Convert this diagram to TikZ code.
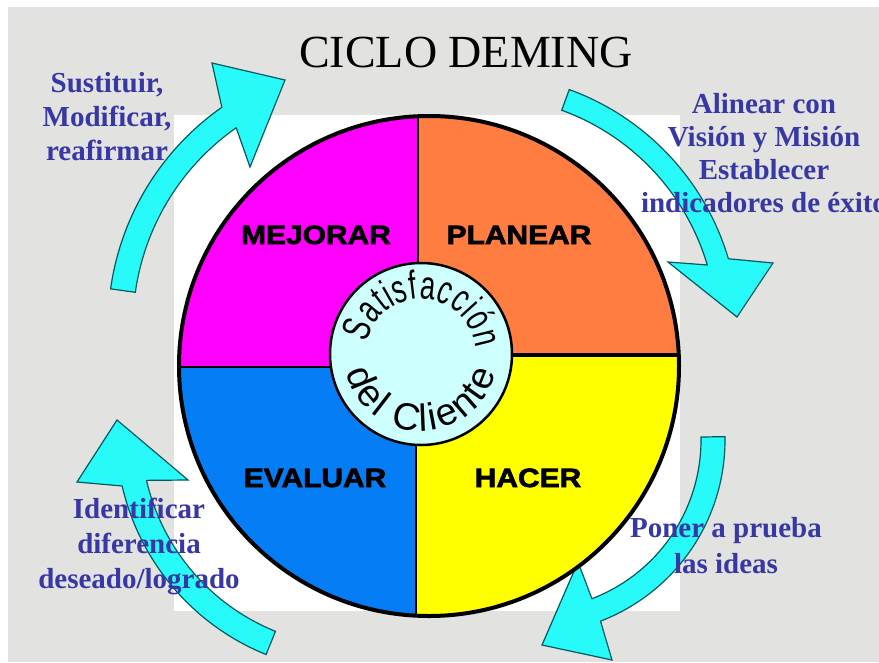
\documentclass[tikz,border=0pt]{standalone}
\usepackage{fontspec}
\setmainfont{Liberation Serif}
\newfontfamily\sansfont{Liberation Sans}
\newfontfamily\widefont[FakeStretch=1.13, FakeBold=2.5]{Liberation Sans}
\newfontfamily\arcfont[FakeStretch=0.68]{Liberation Sans}
\usetikzlibrary{calc, positioning, decorations.text}
\definecolor{bgrey}{RGB}{226,226,224}
\definecolor{arrcyan}{RGB}{40,250,250}
\definecolor{arredge}{RGB}{0,90,95}
\definecolor{txtblue}{RGB}{55,55,165}
\definecolor{qmag}{RGB}{255,0,255}
\definecolor{qorange}{RGB}{255,125,65}
\definecolor{qyellow}{RGB}{255,255,0}
\definecolor{qblue}{RGB}{5,125,245}
\definecolor{qcentre}{RGB}{205,255,255}

\begin{document}
\begin{tikzpicture}[x=1pt, y=1pt]%{{{
        \useasboundingbox (0,0) rectangle (879,-662);
        \fill [white] (0,0) rectangle (879,-662);
        \fill [bgrey] (8,-7) rectangle (879,-662);
        \fill [white] (174,-115) rectangle (680,-611);

        \coordinate (W) at (429,-366);
        \coordinate (S) at (421,-354);

        \coordinate (A1) at (375,-326);
        \coordinate (A2) at (481,-332);
        \coordinate (A3) at (531,-440);
        \coordinate (A4) at (356,-432);

        \tikzstyle{a} = [draw=arredge, fill=arrcyan, line width=1.2pt, line join=miter];
        \draw [a] ($(A1)+(172:267)$) arc[start angle=172, end angle=125, radius=267]
            -- (212,-63) -- (285,-80) -- (250,-167)
            -- ($(A1)+(125:242)$) arc[start angle=125, end angle=172, radius=242] -- cycle;
        \draw [a] ($(A2)+(70:258)$) arc[start angle=70, end angle=16.5, radius=258]
            -- (773,-263) -- (737,-317) -- (668,-262)
            -- ($(A2)+(16.5:236)$) arc[start angle=16.5, end angle=70, radius=236] -- cycle;
        \draw [a] ($(A3)+(1:194)$) arc[start angle=1, end angle=-69, radius=194]
            -- (612,-660) -- (542,-645) -- (578,-562)
            -- ($(A3)+(-69:170)$) arc[start angle=-69, end angle=1, radius=170] -- cycle;
        \draw [a] ($(A4)+(248:240)$) arc[start angle=248, end angle=193, radius=240]
            -- (77,-482) -- (117,-420) -- (188,-480)
            -- ($(A4)+(193:215)$) arc[start angle=193, end angle=248, radius=215] -- cycle;

        \begin{scope}
            \clip (W) circle[radius=250];
            \fill [qmag] (170,-100) rectangle (418,-367);
            \fill [qorange] (418,-100) rectangle (690,-355);
            \fill [qyellow] (416,-355) rectangle (690,-630);
            \fill [qblue] (170,-367) rectangle (416,-630);
            \draw [line width=2pt] (418,-100) -- (418,-355);
            \draw [line width=1.6pt] (170,-367) -- (421,-367);
            \draw [line width=4pt] (421,-355) -- (690,-355);
            \draw [line width=2pt] (416,-355) -- (416,-630);
        \end{scope}
        \draw [line width=4pt] (W) circle[radius=250];

        \node [circle, draw, line width=2.5pt, fill=qcentre, minimum size=182pt, inner sep=0] (sat) at (S) { };

        \path [decorate, decoration={text along path, text align=fit to path,
            text={|\arcfont\fontsize{40}{40}\selectfont|Satisfacción}}]
            ($(S)+(168:55)$) arc[start angle=168, end angle=6, radius=55];
        \path [decorate, decoration={text along path, text align=fit to path,
            text={|\sansfont\fontsize{38}{38}\selectfont|del Cliente}}]
            ($(S)+(194:77)$) arc[start angle=194, end angle=346, radius=77];

        \tikzstyle{q} = [font=\widefont\bfseries\fontsize{26.5}{30}\selectfont, anchor=base, inner sep=0];
        \foreach \lab/\xx/\yy in {MEJORAR/316/244, PLANEAR/519/244, EVALUAR/315/487, HACER/528/487}{
            \node [q] (\lab) at (\xx,-\yy) {\lab};
        }

        \node [font=\fontsize{46}{50}\selectfont, anchor=base, inner sep=0] (title) at (466,-67) {CICLO DEMING};

        \tikzstyle{n} = [font=\bfseries\fontsize{29}{34}\selectfont, text=txtblue, anchor=base, inner sep=0];
        \foreach \t [count=\i from 0] in {{Sustituir,}, {Modificar,}, reafirmar}{
            \node [n] (tl\i) at (107,{-92-34*\i}) {\t};
        }
        \foreach \t [count=\i from 0] in {Alinear con, Visión y Misión, Establecer, indicadores de éxito}{
            \node [n] (tr\i) at (764,{-113-33.3*\i}) {\t};
        }
        \foreach \t [count=\i from 0] in {Identificar, diferencia, deseado/logrado}{
            \node [n] (bl\i) at (139,{-518-35*\i}) {\t};
        }
        \foreach \t [count=\i from 0] in {Poner a prueba, las ideas}{
            \node [n] (br\i) at (726,{-537-36*\i}) {\t};
        }
    \end{tikzpicture}
\end{document}
